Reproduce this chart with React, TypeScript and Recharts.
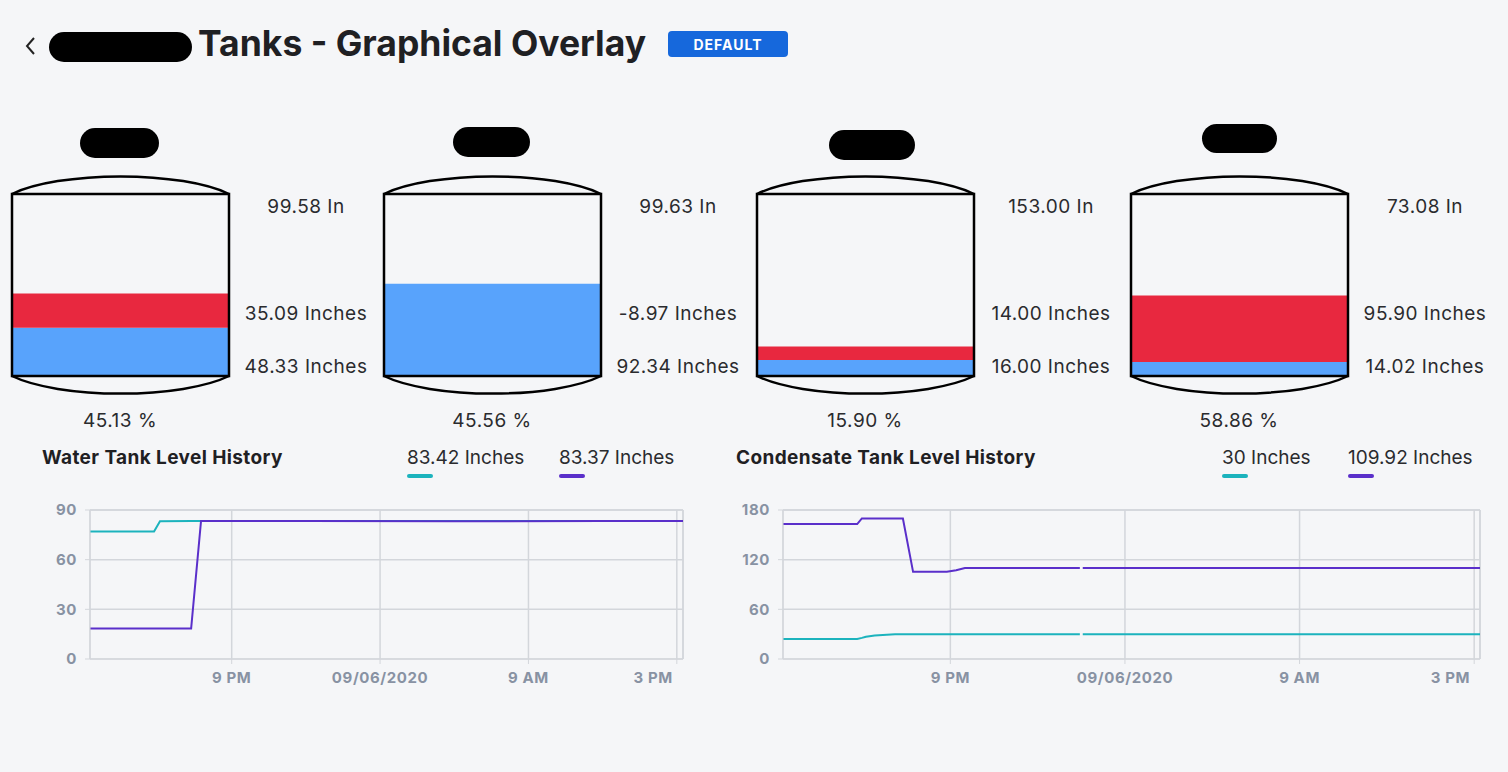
import React from 'react';
import {
  Bar,
  BarChart,
  CartesianGrid,
  Line,
  LineChart,
  ReferenceLine,
  XAxis,
  YAxis,
} from 'recharts';

// tank readings (drawn levels in inches, and the labels shown beside each tank)
const tankWater = [48.33, 92.34, 16.0, 14.02];
const tankOil = [34.2, 0, 13.5, 66.5];
const tankTotals = ['99.58 In', '99.63 In', '153.00 In', '73.08 In'];
const tankOilLabels = ['35.09 Inches', '-8.97 Inches', '14.00 Inches', '95.90 Inches'];
const tankWaterLabels = ['48.33 Inches', '92.34 Inches', '16.00 Inches', '14.02 Inches'];
const tankPercents = ['45.13 %', '45.56 %', '15.90 %', '58.86 %'];

// history: hours since 00:00 on 09/05/2020
const waterHours = [15.27, 17.86, 18.1, 19.36, 19.76, 24, 30, 36, 39.25];
const waterA = [77, 77, 83.2, 83.4, 83.4, 83.4, 83.4, 83.4, 83.42];
const waterB = [18.4, 18.4, 18.4, 18.4, 83.4, 83.4, 83.2, 83.3, 83.37];

const condHours = [15.25, 17.8, 17.96, 18.1, 18.4, 19.1, 19.37, 19.72, 20.88, 21.2, 21.5, 25.45, 25.5, 25.55, 39.2];
const condA = [24.1, 24.1, 25.5, 26.9, 28.5, 29.8, 29.9, 30, 30, 30, 30, 30, null, 30, 30];
const condB = [163, 163, 169.8, 169.8, 169.8, 169.8, 169.8, 105.3, 105.3, 107.2, 109.8, 109.8, null, 109.8, 109.92];

const timeTicks = [21, 27, 33, 39];
const timeLabels = ['9 PM', '09/06/2020', '9 AM', '3 PM'];

const waterLegend = ['83.42 Inches', '83.37 Inches'];
const condLegend = ['30 Inches', '109.92 Inches'];

const BG = '#f5f6f8';
const TEAL = '#1cb3bd';
const PURPLE = '#5a2fca';
const RED = '#e8283f';
const BLUE = '#58a3fc';
const GRID = '#d3d6db';
const TICK = '#8892a3';
const FONT = 'Inter, Roboto, sans-serif';

const tankLefts = [12, 384, 757, 1131];
const pills = [
  { dx: 68, y: 128, w: 79, h: 30 },
  { dx: 69, y: 127, w: 77, h: 30 },
  { dx: 72, y: 130, w: 86, h: 30 },
  { dx: 71, y: 124, w: 75, h: 29 },
];

const TANK_W = 217;
const TANK_TOP = 194;
const TANK_H = 182;

function Label(props: { x: number; y: number; text: string }) {
  return (
    <div
      style={{
        position: 'absolute',
        left: props.x,
        top: props.y,
        transform: 'translate(-50%, -50%)',
        whiteSpace: 'nowrap',
        fontSize: 19,
        letterSpacing: 0.5,
        color: '#2a2b2e',
      }}
    >
      {props.text}
    </div>
  );
}

function Tank(props: { i: number }) {
  const left = tankLefts[props.i];
  const pill = pills[props.i];
  const data = [{ name: 'tank', water: tankWater[props.i], oil: tankOil[props.i] }];
  const w = TANK_W;
  return (
    <>
      <div
        style={{
          position: 'absolute',
          left: left + pill.dx,
          top: pill.y,
          width: pill.w,
          height: pill.h,
          borderRadius: 15,
          background: '#000',
        }}
      />
      <div style={{ position: 'absolute', left, top: TANK_TOP }}>
        <BarChart
          width={w}
          height={TANK_H}
          data={data}
          margin={{ top: 0, right: 0, bottom: 0, left: 0 }}
          barCategoryGap={0}
        >
          <XAxis dataKey="name" hide />
          <YAxis hide domain={[0, TANK_H]} />
          <Bar dataKey="water" stackId="t" fill={BLUE} isAnimationActive={false} />
          <Bar dataKey="oil" stackId="t" fill={RED} isAnimationActive={false} />
        </BarChart>
      </div>
      <svg
        style={{ position: 'absolute', left: left - 4, top: 170, overflow: 'visible' }}
        width={w + 8}
        height={235}
      >
        <g transform={`translate(4, ${-170})`} fill="none" stroke="#000" strokeWidth={2.5}>
          <path d={`M0,${TANK_TOP} A125,35 0 0 1 ${w},${TANK_TOP}`} />
          <rect x={0} y={TANK_TOP} width={w} height={TANK_H} />
          <path d={`M0,${TANK_TOP + TANK_H} A125,35 0 0 0 ${w},${TANK_TOP + TANK_H}`} />
        </g>
      </svg>
      <Label x={left + 294} y={206} text={tankTotals[props.i]} />
      <Label x={left + 294} y={313} text={tankOilLabels[props.i]} />
      <Label x={left + 294} y={366} text={tankWaterLabels[props.i]} />
      <Label x={left + 108} y={420} text={tankPercents[props.i]} />
    </>
  );
}

const tickStyle = {
  fill: TICK,
  fontSize: 15,
  fontWeight: 700,
  fontFamily: FONT,
  letterSpacing: 0.6,
};

// last time label is pulled inside the plot, like the original dashboard
function TimeTick(props: any) {
  const { x, y, payload } = props;
  const idx = timeTicks.indexOf(payload.value);
  const last = idx === timeTicks.length - 1;
  return (
    <text
      x={last ? x - 4 : x}
      y={y}
      dy="0.71em"
      textAnchor={last ? 'end' : 'middle'}
      {...tickStyle}
    >
      {timeLabels[idx] ?? ''}
    </text>
  );
}

function HistoryChart(props: {
  left: number;
  width: number;
  hours: number[];
  a: (number | null)[];
  b: (number | null)[];
  yTicks: number[];
  domain: [number, number];
}) {
  const rows = props.hours.map((h, k) => ({ h, a: props.a[k], b: props.b[k] }));
  const yMax = props.yTicks[props.yTicks.length - 1];
  return (
    <div style={{ position: 'absolute', left: props.left, top: 495 }}>
      <LineChart
        width={props.width}
        height={194}
        data={rows}
        margin={{ top: 15, right: 17, bottom: 0, left: 0 }}
      >
        <CartesianGrid stroke={GRID} strokeWidth={1.5} />
        <XAxis
          dataKey="h"
          type="number"
          domain={props.domain}
          allowDataOverflow
          ticks={timeTicks}
          height={30}
          tickSize={5}
          tickMargin={8}
          stroke={GRID}
          tick={<TimeTick />}
        />
        <YAxis
          type="number"
          domain={[0, yMax]}
          ticks={props.yTicks}
          width={70}
          tickSize={5}
          tickMargin={8}
          stroke={GRID}
          tick={tickStyle}
        />
        <ReferenceLine x={props.domain[1]} stroke={GRID} strokeWidth={1.5} />
        <ReferenceLine y={yMax} stroke={GRID} strokeWidth={1.5} />
        <Line
          dataKey="a"
          stroke={TEAL}
          strokeWidth={2}
          dot={false}
          type="linear"
          isAnimationActive={false}
        />
        <Line
          dataKey="b"
          stroke={PURPLE}
          strokeWidth={2}
          dot={false}
          type="linear"
          isAnimationActive={false}
        />
      </LineChart>
    </div>
  );
}

function ChartHeader(props: { titleX: number; title: string; legend: string[]; legendX: number[] }) {
  return (
    <>
      <div
        style={{
          position: 'absolute',
          left: props.titleX,
          top: 446,
          fontSize: 19,
          fontWeight: 700,
          letterSpacing: 0.4,
          color: '#1f2023',
          whiteSpace: 'nowrap',
        }}
      >
        {props.title}
      </div>
      {props.legend.map((t, k) => (
        <div key={t} style={{ position: 'absolute', left: props.legendX[k], top: 446 }}>
          <div style={{ fontSize: 19, color: '#2a2b2e', whiteSpace: 'nowrap' }}>{t}</div>
          <div
            style={{
              marginTop: 5,
              width: 26,
              height: 4,
              borderRadius: 2,
              background: k === 0 ? TEAL : PURPLE,
            }}
          />
        </div>
      ))}
    </>
  );
}

export default function App() {
  return (
    <div
      style={{
        position: 'absolute',
        left: 0,
        top: 0,
        width: 1508,
        height: 772,
        overflow: 'hidden',
        background: BG,
        fontFamily: FONT,
      }}
    >
      <svg style={{ position: 'absolute', left: 22, top: 36 }} width={18} height={20}>
        <polyline points="12,2 5,10 12,18" fill="none" stroke="#222" strokeWidth={2} />
      </svg>
      <div
        style={{
          position: 'absolute',
          left: 49,
          top: 32,
          width: 143,
          height: 30,
          borderRadius: 15,
          background: '#000',
        }}
      />
      <div
        style={{
          position: 'absolute',
          left: 198,
          top: 22,
          fontSize: 35.5,
          fontWeight: 700,
          color: '#1f2023',
          whiteSpace: 'nowrap',
        }}
      >
        Tanks - Graphical Overlay
      </div>
      <div
        style={{
          position: 'absolute',
          left: 668,
          top: 31,
          width: 120,
          height: 26,
          borderRadius: 4,
          background: '#1668dc',
          color: '#fff',
          fontSize: 14,
          fontWeight: 700,
          letterSpacing: 1,
          display: 'flex',
          alignItems: 'center',
          justifyContent: 'center',
        }}
      >
        DEFAULT
      </div>

      {tankLefts.map((_, i) => (
        <Tank key={i} i={i} />
      ))}

      <ChartHeader
        titleX={42}
        title="Water Tank Level History"
        legend={waterLegend}
        legendX={[407, 559]}
      />
      <ChartHeader
        titleX={736}
        title="Condensate Tank Level History"
        legend={condLegend}
        legendX={[1222, 1348]}
      />

      <HistoryChart
        left={20}
        width={680}
        hours={waterHours}
        a={waterA}
        b={waterB}
        yTicks={[0, 30, 60, 90]}
        domain={[15.27, 39.25]}
      />
      <HistoryChart
        left={713}
        width={784}
        hours={condHours}
        a={condA}
        b={condB}
        yTicks={[0, 60, 120, 180]}
        domain={[15.25, 39.2]}
      />
    </div>
  );
}
